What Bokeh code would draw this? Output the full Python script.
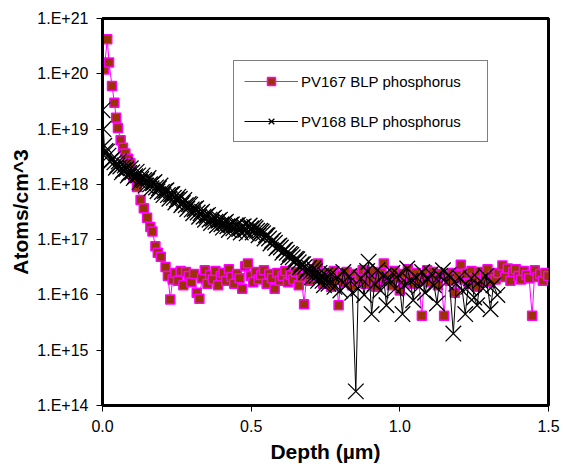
from bokeh.plotting import figure
from bokeh.models import FixedTicker, Legend, LegendItem
from bokeh.embed import file_html
from bokeh.resources import INLINE

# ---- PV167 BLP phosphorus (depth in um, atoms/cm^3) ----
pv167_depth = [0.006, 0.016, 0.022, 0.032, 0.040, 0.046, 0.052, 0.061, 0.069, 0.077,
               0.086, 0.094, 0.104, 0.116, 0.128, 0.139, 0.150, 0.161, 0.168, 0.178,
               0.186, 0.196, 0.212, 0.220, 0.228,
               0.236, 0.245, 0.254, 0.263, 0.272, 0.281, 0.290, 0.299, 0.308, 0.317,
               0.326, 0.335, 0.344, 0.353, 0.362, 0.371, 0.380, 0.389, 0.398, 0.407,
               0.416, 0.425, 0.434, 0.443, 0.452, 0.461, 0.470, 0.480, 0.489, 0.498,
               0.507, 0.516, 0.525, 0.534, 0.543, 0.552, 0.561, 0.570, 0.579, 0.588,
               0.597, 0.606, 0.615, 0.624, 0.633, 0.642, 0.651, 0.660, 0.669, 0.678,
               0.687, 0.696, 0.705, 0.714, 0.724, 0.733, 0.742, 0.751, 0.760, 0.769,
               0.778, 0.787, 0.794, 0.803, 0.812, 0.821, 0.830, 0.839, 0.848, 0.857,
               0.866, 0.875, 0.884, 0.893, 0.902, 0.911, 0.920, 0.929, 0.938, 0.946,
               0.955, 0.964, 0.973, 0.982, 0.991, 1.000, 1.009, 1.018, 1.027, 1.036,
               1.045, 1.054, 1.063, 1.074, 1.083, 1.092, 1.101, 1.110, 1.119, 1.128,
               1.137, 1.149, 1.158, 1.167, 1.176, 1.185, 1.194, 1.205, 1.214, 1.223,
               1.232, 1.241, 1.250, 1.259, 1.268, 1.277, 1.286, 1.295, 1.304, 1.313,
               1.322, 1.331, 1.345, 1.354, 1.363, 1.372, 1.381, 1.390, 1.399, 1.408,
               1.417, 1.426, 1.435, 1.445, 1.454, 1.463, 1.472, 1.481, 1.490, 1.499]
pv167_conc = [1.2e20, 4.2e20, 1.6e20, 6.0e19, 3.0e19, 1.6e19, 1.05e19, 6.3e18, 4.6e18, 3.6e18,
              2.9e18, 2.4e18, 1.35e18, 9.0e17, 5.2e17, 3.7e17, 2.5e17, 1.7e17, 1.4e17, 7.6e16,
              5.8e16, 4.9e16, 3.2e16, 2.2e16, 8.3e15,
              1.9e16, 2.5e16, 1.8e16, 2.7e16, 1.5e16, 2.6e16, 2.2e16, 1.7e16, 2.4e16, 1.1e16,
              8.5e15, 2.0e16, 2.8e16, 1.6e16, 2.3e16, 1.9e16, 2.7e16, 1.5e16, 2.2e16, 2.5e16,
              1.8e16, 2.9e16, 2.1e16, 1.6e16, 2.4e16, 2.0e16, 1.3e16, 3.3e16, 3.7e16, 2.2e16,
              1.7e16, 2.6e16, 1.9e16, 2.3e16, 2.8e16, 1.6e16, 2.4e16, 2.0e16, 1.3e16, 2.5e16,
              1.8e16, 2.2e16, 2.7e16, 1.7e16, 2.3e16, 1.9e16, 2.6e16, 1.5e16, 2.1e16, 6.8e15,
              2.4e16, 1.8e16, 2.2e16, 2.9e16, 3.7e16, 2.0e16, 1.6e16, 2.5e16, 2.1e16, 1.4e16,
              2.7e16, 1.9e16, 6.5e15, 2.3e16, 1.7e16, 2.6e16, 2.0e16, 1.5e16, 2.4e16, 1.8e16,
              2.2e16, 2.8e16, 1.6e16, 2.3e16, 1.9e16, 2.6e16, 1.4e16, 2.1e16, 2.5e16, 3.7e16,
              1.8e16, 2.2e16, 1.5e16, 2.7e16, 2.0e16, 1.2e16, 2.4e16, 1.7e16, 2.9e16, 2.1e16,
              1.6e16, 2.5e16, 1.9e16, 4.2e15, 2.3e16, 2.8e16, 1.7e16, 2.6e16, 2.0e16, 1.5e16,
              2.4e16, 4.2e15, 2.2e16, 1.8e16, 2.5e16, 1.1e16, 2.3e16, 3.5e16, 1.9e16, 2.4e16,
              1.6e16, 2.7e16, 2.0e16, 1.4e16, 2.6e16, 1.8e16, 2.3e16, 2.9e16, 1.7e16, 2.2e16,
              1.9e16, 2.5e16, 3.4e16, 2.1e16, 3.0e16, 1.8e16, 2.6e16, 2.9e16, 2.2e16, 1.9e16,
              2.7e16, 2.3e16, 2.0e16, 4.2e15, 2.8e16, 2.1e16, 2.4e16, 1.8e16, 2.5e16, 2.2e16]

# ---- PV168 BLP phosphorus ----
pv168_depth = [0.000, 0.003, 0.006, 0.010, 0.015, 0.020, 0.025, 0.030, 0.035, 0.040,
               0.045, 0.050, 0.055, 0.060, 0.065, 0.070, 0.075, 0.080, 0.085, 0.090,
               0.095, 0.100, 0.105, 0.110, 0.115, 0.120, 0.125, 0.130, 0.135, 0.140,
               0.145, 0.150, 0.155, 0.160, 0.165, 0.170, 0.175, 0.180, 0.185, 0.190,
               0.195, 0.200, 0.205, 0.210, 0.215, 0.220, 0.225, 0.230, 0.235, 0.240,
               0.245, 0.250, 0.255, 0.260, 0.265, 0.270, 0.275, 0.280, 0.285, 0.290,
               0.295, 0.300, 0.305, 0.310, 0.315, 0.320, 0.325, 0.330, 0.335, 0.340,
               0.345, 0.350, 0.355, 0.360, 0.365, 0.370, 0.375, 0.380, 0.385, 0.390,
               0.395, 0.400, 0.405, 0.410, 0.415, 0.420, 0.425, 0.430, 0.435, 0.440,
               0.445, 0.450, 0.455, 0.460, 0.465, 0.470, 0.475, 0.480, 0.485, 0.490,
               0.495, 0.500, 0.505, 0.510, 0.515, 0.520, 0.525, 0.530, 0.535, 0.540,
               0.545, 0.550, 0.555, 0.560, 0.565, 0.570, 0.575, 0.580, 0.585, 0.590,
               0.595, 0.600, 0.605, 0.610, 0.615, 0.620, 0.625, 0.630, 0.635, 0.640,
               0.645, 0.650, 0.655, 0.660, 0.665, 0.670, 0.675, 0.680, 0.685, 0.690,
               0.695, 0.700, 0.705, 0.710, 0.715, 0.720, 0.725, 0.730, 0.735, 0.740,
               0.745, 0.750, 0.760, 0.770, 0.780, 0.790, 0.800, 0.810, 0.820, 0.830,
               0.840, 0.852, 0.860, 0.870, 0.880, 0.890, 0.895, 0.905, 0.915, 0.925,
               0.935, 0.945, 0.955, 0.965, 0.975, 0.985, 0.995, 1.009, 1.015, 1.025,
               1.035, 1.045, 1.055, 1.065, 1.075, 1.085, 1.095, 1.105, 1.115, 1.125,
               1.135, 1.145, 1.155, 1.165, 1.180, 1.190, 1.200, 1.210, 1.220, 1.230,
               1.240, 1.250, 1.260, 1.270, 1.280, 1.290, 1.305, 1.315, 1.328]
pv168_conc = [2.2e19, 1.0e19, 5.0e18, 4.0e18, 3.9e18, 3.3e18, 2.6e18, 2.7e18, 2.9e18, 2.5e18,
              2.0e18, 2.2e18, 2.6e18, 2.1e18, 1.65e18, 1.8e18, 2.2e18, 1.9e18, 1.45e18, 1.6e18,
              1.95e18, 1.65e18, 1.3e18, 1.4e18, 1.7e18, 1.45e18, 1.1e18, 1.25e18, 1.45e18, 1.2e18,
              9.5e17, 1.15e18, 1.3e18, 1.0e18, 8.5e17, 1.05e18, 1.1e18, 8.8e17, 7.5e17, 8.5e17,
              9.5e17, 7.3e17, 6.4e17, 7.6e17, 7.8e17, 6.4e17, 5.5e17, 6.6e17, 6.7e17, 5.7e17,
              4.7e17, 5.3e17, 6.0e17, 5.5e17, 4.2e17, 4.6e17, 5.2e17, 4.2e17, 3.6e17, 4.4e17,
              4.3e17, 3.5e17, 3.0e17, 3.6e17, 3.7e17, 3.1e17, 2.6e17, 3.0e17, 3.2e17, 2.6e17,
              2.3e17, 2.7e17, 2.8e17, 2.3e17, 2.0e17, 2.4e17, 2.5e17, 2.1e17, 1.8e17, 2.2e17,
              2.3e17, 1.9e17, 1.65e17, 2.0e17, 2.1e17, 1.75e17, 1.5e17, 1.85e17, 1.9e17, 1.6e17,
              1.4e17, 1.8e17, 1.85e17, 1.55e17, 1.35e17, 1.7e17, 1.75e17, 1.5e17, 1.3e17, 1.7e17,
              1.8e17, 1.6e17, 1.35e17, 1.7e17, 1.6e17, 1.45e17, 1.2e17, 1.45e17, 1.4e17, 1.3e17,
              1.05e17, 1.2e17, 1.2e17, 1.05e17, 8.5e16, 9.5e16, 9.8e16, 8.8e16, 7.0e16, 7.6e16,
              7.8e16, 7.2e16, 5.8e16, 6.4e16, 6.6e16, 5.8e16, 4.8e16, 5.5e16, 5.3e16, 4.8e16,
              3.9e16, 4.5e16, 4.4e16, 3.9e16, 3.2e16, 3.6e16, 3.6e16, 3.2e16, 2.6e16, 2.9e16,
              3.1e16, 2.6e16, 2.1e16, 3.0e16, 2.7e16, 2.2e16, 1.8e16, 2.5e16, 2.2e16, 1.8e16,
              1.5e16, 2.3e16, 1.6e16, 2.4e16, 1.4e16, 2.1e16, 1.2e16, 2.6e16, 1.5e16, 2.2e16,
              1.1e16, 1.8e14, 1.3e16, 2.0e16, 1.0e16, 2.7e16, 4.0e16, 4.5e15, 1.6e16, 2.8e16,
              1.2e16, 2.2e16, 6.5e15, 1.9e16, 2.5e16, 1.3e16, 2.3e16, 4.5e15, 1.5e16, 3.0e16,
              1.8e16, 8.0e15, 2.1e16, 1.4e16, 2.6e16, 1.1e16, 1.9e16, 2.4e16, 1.5e16, 7.0e15,
              2.2e16, 2.8e16, 1.7e16, 2.3e16, 2.0e15, 1.6e16, 2.1e16, 1.2e16, 4.5e15, 1.4e16,
              2.0e16, 9.0e15, 6.5e15, 1.8e16, 1.3e16, 2.2e16, 5.5e15, 1.5e16, 1.0e16]

x_ticks = [0.0, 0.5, 1.0, 1.5]
x_tick_labels = ["0.0", "0.5", "1.0", "1.5"]
y_ticks = [1e14, 1e15, 1e16, 1e17, 1e18, 1e19, 1e20, 1e21]
y_tick_labels = ["1.E+14", "1.E+15", "1.E+16", "1.E+17", "1.E+18", "1.E+19", "1.E+20", "1.E+21"]

FONT = "Liberation Sans"

p = figure(width=563, height=469, x_range=(0, 1.5), y_range=(1e14, 1e21),
           y_axis_type="log", output_backend="svg", toolbar_location=None,
           min_border_left=102, min_border_right=15, min_border_top=18, min_border_bottom=64,
           background_fill_color="white", border_fill_color="white")

p.xgrid.visible = False
p.ygrid.visible = False
p.outline_line_color = "black"
p.outline_line_width = 3
p.outline_line_alpha = 1.0

for ax in (p.xaxis[0], p.yaxis[0]):
    ax.axis_line_width = 3
    ax.axis_line_color = "black"
    ax.major_tick_line_color = "black"
    ax.major_tick_line_width = 1
    ax.major_tick_in = 0
    ax.major_tick_out = 6
    ax.minor_tick_line_color = None
    ax.major_label_text_font = FONT
    ax.major_label_text_font_size = "16px"
    ax.major_label_text_color = "black"
    ax.axis_label_text_font = FONT
    ax.axis_label_text_font_style = "bold"
    ax.axis_label_text_color = "black"

p.xaxis.ticker = FixedTicker(ticks=x_ticks)
p.xaxis.major_label_overrides = dict(zip(x_ticks, x_tick_labels))
p.xaxis.major_label_standoff = 8
p.xaxis.axis_label = "Depth (µm)"
p.xaxis.axis_label_text_font_size = "21px"
p.xaxis.axis_label_standoff = 5

p.yaxis.ticker = FixedTicker(ticks=y_ticks)
p.yaxis.major_label_overrides = dict(zip(y_ticks, y_tick_labels))
p.yaxis.major_label_standoff = 8
p.yaxis.axis_label = "Atoms/cm^3"
p.yaxis.axis_label_text_font_size = "21px"
p.yaxis.axis_label_standoff = 2

r1l = p.line(pv167_depth, pv167_conc, line_color="#FF00FF", line_width=1)
r1s = p.scatter(pv167_depth, pv167_conc, marker="square", size=9,
                fill_color="#993300", line_color="#FF00FF", line_width=1.5)
r2l = p.line(pv168_depth, pv168_conc, line_color="black", line_width=1)
r2s = p.scatter(pv168_depth, pv168_conc, marker="x", size=22,
                line_color="black", line_width=1.3)

legend = Legend(items=[LegendItem(label="PV167 BLP phosphorus", renderers=[r1l, r1s]),
                       LegendItem(label="PV168 BLP phosphorus", renderers=[r2l, r2s])],
                location=(131, 263), orientation="vertical",
                padding=10, spacing=20, margin=0,
                glyph_width=54, glyph_height=20, label_height=20, label_width=176,
                label_standoff=3,
                label_text_font=FONT, label_text_font_size="15px", label_text_color="black",
                border_line_color="black", border_line_width=1,
                background_fill_color="white", background_fill_alpha=1.0)
p.add_layout(legend)

open("out.html", "w").write(file_html(p, INLINE))
